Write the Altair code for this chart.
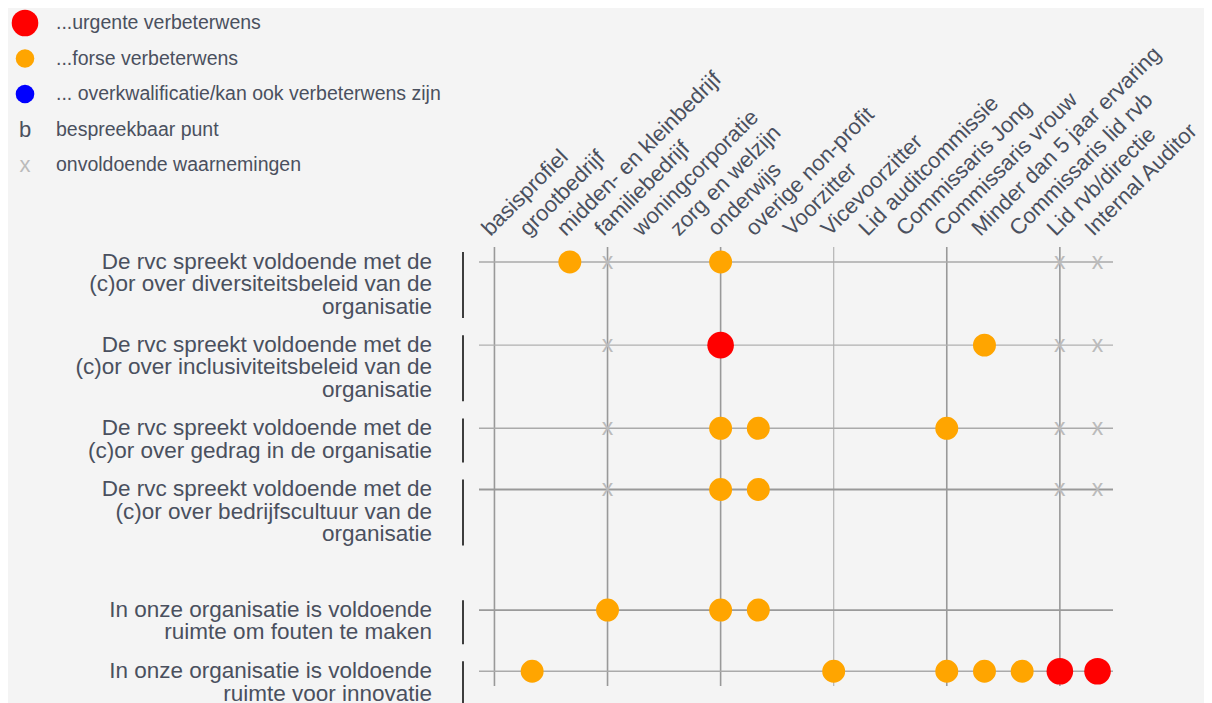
import altair as alt
import pandas as pd

# ---------------- data ----------------
questions = [
    "De rvc spreekt voldoende met de|(c)or over diversiteitsbeleid van de|organisatie",
    "De rvc spreekt voldoende met de|(c)or over inclusiviteitsbeleid van de|organisatie",
    "De rvc spreekt voldoende met de|(c)or over gedrag in de organisatie",
    "De rvc spreekt voldoende met de|(c)or over bedrijfscultuur van de|organisatie",
    "In onze organisatie is voldoende|ruimte om fouten te maken",
    "In onze organisatie is voldoende|ruimte voor innovatie",
]
question_group = [0, 0, 0, 0, 1, 1]

profiles = [
    "basisprofiel", "grootbedrijf", "midden- en kleinbedrijf", "familiebedrijf",
    "woningcorporatie", "zorg en welzijn", "onderwijs", "overige non-profit",
    "Voorzitter", "Vicevoorzitter", "Lid auditcommissie", "Commissaris Jong",
    "Commissaris vrouw", "Minder dan 5 jaar ervaring", "Commissaris lid rvb",
    "Lid rvb/directie", "Internal Auditor",
]

urgente = [
    [],
    ["onderwijs"],
    [],
    [],
    [],
    ["Lid rvb/directie", "Internal Auditor"],
]
forse = [
    ["midden- en kleinbedrijf", "onderwijs"],
    ["Minder dan 5 jaar ervaring"],
    ["onderwijs", "overige non-profit", "Commissaris vrouw"],
    ["onderwijs", "overige non-profit"],
    ["familiebedrijf", "onderwijs", "overige non-profit"],
    ["grootbedrijf", "Vicevoorzitter", "Commissaris vrouw",
     "Minder dan 5 jaar ervaring", "Commissaris lid rvb"],
]
onvoldoende = [
    ["familiebedrijf", "Lid rvb/directie", "Internal Auditor"],
    ["familiebedrijf", "Lid rvb/directie", "Internal Auditor"],
    ["familiebedrijf", "Lid rvb/directie", "Internal Auditor"],
    ["familiebedrijf", "Lid rvb/directie", "Internal Auditor"],
    [],
    [],
]

legend_labels = [
    "...urgente verbeterwens",
    "...forse verbeterwens",
    "... overkwalificatie/kan ook verbeterwens zijn",
    "bespreekbaar punt",
    "onvoldoende waarnemingen",
]
legend_symbols = ["circle", "circle", "circle", "b", "x"]

# ---------------- styles ----------------
FONT = "Liberation Sans"
TEXT = "#4a505e"
BG = "#f4f4f4"
RATING_DOMAIN = ["urgent", "forse", "overkw"]
RATING_COLORS = ["#ff0000", "#ffa500", "#0000ff"]
RATING_SIZES = [707, 346, 346]
legend_colors = ["#ff0000", "#ffa500", "#0000ff", TEXT, "#bbbbbb"]
legend_sizes = [707, 346, 346, 0, 0]
row_line_colors = ["#aaaaaa", "#b0b0b0", "#aaaaaa", "#999999", "#9a9a9a", "#aaaaaa"]
row_line_widths = [1.6, 1.2, 1.4, 2.2, 1.7, 1.6]
grid_profiles = ["basisprofiel", "familiebedrijf", "onderwijs",
                 "Vicevoorzitter", "Commissaris vrouw", "Lid rvb/directie"]
grid_colors = ["#999999", "#999999", "#999999", "#b5b5b5", "#999999", "#999999"]
grid_widths = [1.6, 1.6, 1.6, 1.2, 1.6, 1.6]

GAP = 0.78        # gap between question blocks, in text lines
GROUP_GAP = 1.70  # extra gap between the two question groups
Y_MIN, Y_MAX = -0.68, 19.27
W, H = 634, 439

# ---------------- tables ----------------
rows = []
u = 0.0
for i, q in enumerate(questions):
    n = len(q.split("|"))
    if i > 0:
        u += len(questions[i - 1].split("|")) + GAP
        if question_group[i] != question_group[i - 1]:
            u += GROUP_GAP
    rows.append({
        "question": q, "pos": u, "lines": n,
        "top": u - 0.45, "bottom": u - 0.45 + n,
        "lc": row_line_colors[i], "lw": row_line_widths[i],
    })
rows_df = pd.DataFrame(rows)
pos_of = dict(zip(rows_df["question"], rows_df["pos"]))

cells = []
for i, q in enumerate(questions):
    for p in urgente[i]:
        cells.append({"question": q, "profile": p, "rating": "urgent"})
    for p in forse[i]:
        cells.append({"question": q, "profile": p, "rating": "forse"})
cells_df = pd.DataFrame(cells)
cells_df["pos"] = cells_df["question"].map(pos_of)

xs = []
for i, q in enumerate(questions):
    for p in onvoldoende[i]:
        xs.append({"question": q, "profile": p})
xs_df = pd.DataFrame(xs)
xs_df["pos"] = xs_df["question"].map(pos_of)

prof_df = pd.DataFrame({"profile": profiles})
grid_df = pd.DataFrame({"profile": grid_profiles, "gc": grid_colors, "gw": grid_widths})

leg_df = pd.DataFrame({
    "label": legend_labels, "symbol": legend_symbols,
    "color": legend_colors, "size": legend_sizes,
})

# ---------------- scales ----------------
xscale = alt.Scale(domain=profiles, type="point", padding=0.41)
yscale = alt.Scale(domain=[Y_MIN, Y_MAX], reverse=True, nice=False, zero=False)
X = alt.X("profile:N", scale=xscale, axis=None)

grid = alt.Chart(grid_df).mark_rule().encode(
    x=X,
    color=alt.Color("gc:N", scale=None),
    strokeWidth=alt.StrokeWidth("gw:Q", scale=None),
)

row_lines = alt.Chart(rows_df).mark_rule().encode(
    y=alt.Y("pos:Q", scale=yscale, axis=None),
    color=alt.Color("lc:N", scale=None),
    strokeWidth=alt.StrokeWidth("lw:Q", scale=None),
)

brackets = alt.Chart(rows_df).mark_rule(color="black", strokeWidth=1.5).encode(
    x=alt.value(-16),
    y=alt.Y("top:Q", scale=yscale, axis=None),
    y2="bottom:Q",
)

row_labels = alt.Chart(rows_df).transform_calculate(
    lab="split(datum.question, '|')"
).mark_text(
    align="right", baseline="line-top", lineHeight=22.5, yOffset=-11.25,
    fontSize=22.5, font=FONT, color=TEXT,
).encode(
    x=alt.value(-47),
    y=alt.Y("pos:Q", scale=yscale, axis=None),
    text="lab:N",
)

col_labels = alt.Chart(prof_df).mark_text(
    angle=315, align="left", baseline="alphabetic", fontSize=22,
    font=FONT, color=TEXT, xOffset=-4, yOffset=1,
).encode(
    x=X,
    y=alt.value(-11),
    text="profile:N",
)

x_marks = alt.Chart(xs_df).mark_text(
    text="x", fontSize=23, font=FONT, color="#bbbbbb", baseline="middle", align="center",
).encode(
    x=X,
    y=alt.Y("pos:Q", scale=yscale, axis=None),
)

points = alt.Chart(cells_df).mark_circle(opacity=1).encode(
    x=X,
    y=alt.Y("pos:Q", scale=yscale, axis=None),
    color=alt.Color("rating:N", scale=alt.Scale(domain=RATING_DOMAIN, range=RATING_COLORS), legend=None),
    size=alt.Size("rating:O", scale=alt.Scale(domain=RATING_DOMAIN, range=RATING_SIZES), legend=None),
)

main = alt.layer(grid, row_lines, brackets, row_labels, col_labels, x_marks, points)

# ---------------- legend ----------------
ly = alt.Y("label:N", scale=alt.Scale(type="point", domain=legend_labels,
                                      range=[-224, -82], padding=0), axis=None)
leg_circles = alt.Chart(leg_df).transform_filter(
    "datum.symbol == 'circle'"
).mark_circle(opacity=1).encode(
    x=alt.value(-454), y=ly,
    color=alt.Color("color:N", scale=None),
    size=alt.Size("size:Q", scale=None),
)
leg_glyphs = alt.Chart(leg_df).transform_filter(
    "datum.symbol != 'circle'"
).mark_text(fontSize=22, font=FONT, baseline="middle", align="center").encode(
    x=alt.value(-454), y=ly,
    text="symbol:N",
    color=alt.Color("color:N", scale=None),
)
leg_text = alt.Chart(leg_df).mark_text(
    fontSize=19.5, font=FONT, color=TEXT, baseline="middle", align="left",
).encode(
    x=alt.value(-423), y=ly, text="label:N",
)
legend = alt.layer(leg_circles, leg_glyphs, leg_text)

chart = alt.layer(main, legend).resolve_scale(
    y="independent", color="independent", size="independent"
).properties(
    width=W, height=H,
    padding={"left": 471, "top": 239, "right": 91, "bottom": 17},
    autosize=alt.AutoSizeParams(type="none"),
    background=BG,
).configure_view(stroke=None)

chart.save("out.html", embed_options={"renderer": "svg", "actions": False})
